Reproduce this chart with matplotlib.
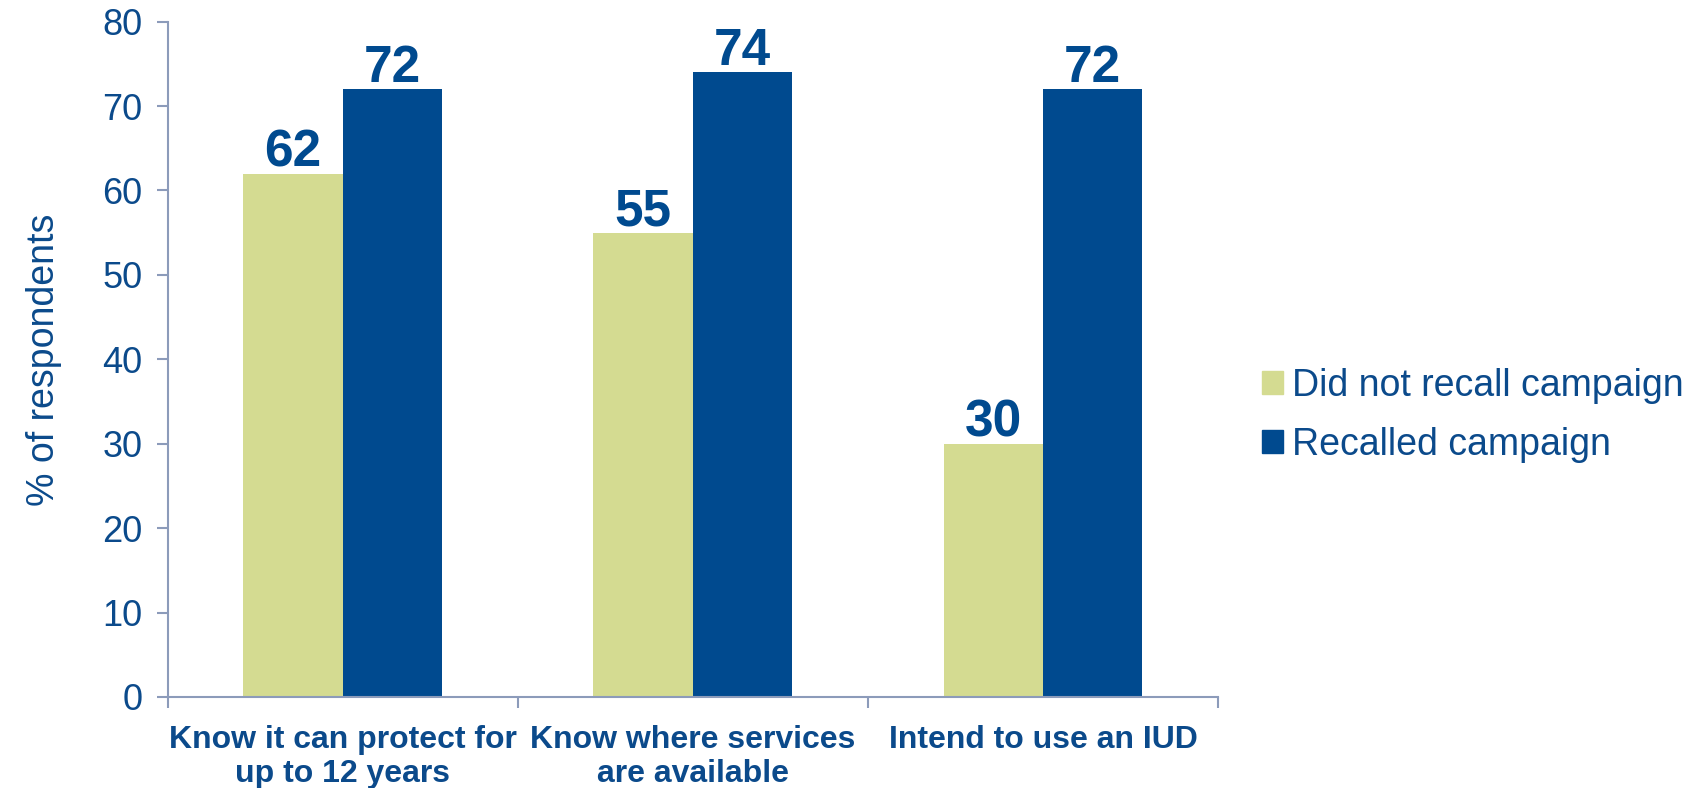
import numpy as np
import matplotlib.pyplot as plt
from matplotlib.patches import Patch

# Data
categories = ["Know it can protect for\nup to 12 years", "Know where services\nare available", "Intend to use an IUD"]
series_names = ["Did not recall campaign", "Recalled campaign"]
not_recalled = [62, 55, 30]
recalled = [72, 74, 72]

GREEN = "#D4DB91"
BLUE = "#004A8F"
TEXT = "#0B4A8B"
AXIS = "#8C9BBA"

plt.rcParams['font.family'] = ['Liberation Sans', 'DejaVu Sans']

fig = plt.figure(figsize=(16.94, 7.88), dpi=100)
ax = fig.add_axes([0.099, 0.1155, 0.620, 0.857])

x = np.arange(len(categories))
w = 0.284
b1 = ax.bar(x - w / 2, not_recalled, w, color=GREEN, label=series_names[0])
b2 = ax.bar(x + w / 2, recalled, w, color=BLUE, label=series_names[1])

# value labels above bars
for bars in (b1, b2):
    for rect in bars:
        ax.annotate(f"{rect.get_height():.0f}",
                    (rect.get_x() + rect.get_width() / 2, rect.get_height()),
                    xytext=(0, -3), textcoords="offset points",
                    ha="center", va="bottom", fontsize=37, fontweight="bold", color=BLUE)

ax.set_xlim(-0.5, len(categories) - 0.5)
ax.set_ylim(0, 80)
ax.set_yticks(np.arange(0, 81, 10))
ax.tick_params(axis="y", labelsize=26, colors=AXIS, labelcolor=TEXT, length=8, width=1.5, pad=10)

# category ticks sit on the boundaries, labels in the middle
ax.set_xticks(np.arange(-0.5, len(categories), 1.0))
ax.set_xticklabels([])
ax.tick_params(axis="x", colors=AXIS, length=8, width=1.5)
ax.set_xticks(x, minor=True)
ax.set_xticklabels(categories, minor=True, fontsize=23, fontweight="bold", color=TEXT, linespacing=1.2)
ax.tick_params(axis="x", which="minor", length=0, pad=20)

for side in ("top", "right"):
    ax.spines[side].set_visible(False)
for side in ("left", "bottom"):
    ax.spines[side].set_color(AXIS)
    ax.spines[side].set_linewidth(1.5)

ax.set_ylabel("% of respondents", fontsize=27, color=TEXT, labelpad=29)

handles = [Patch(color=GREEN), Patch(color=BLUE)]
fig.legend(handles, series_names, loc="center left", bbox_to_anchor=(0.725, 0.473),
           frameon=False, fontsize=27, labelcolor=TEXT, handlelength=0.55, handleheight=0.55,
           handletextpad=0.25, labelspacing=0.62)

fig.savefig("out.png", dpi=100)
